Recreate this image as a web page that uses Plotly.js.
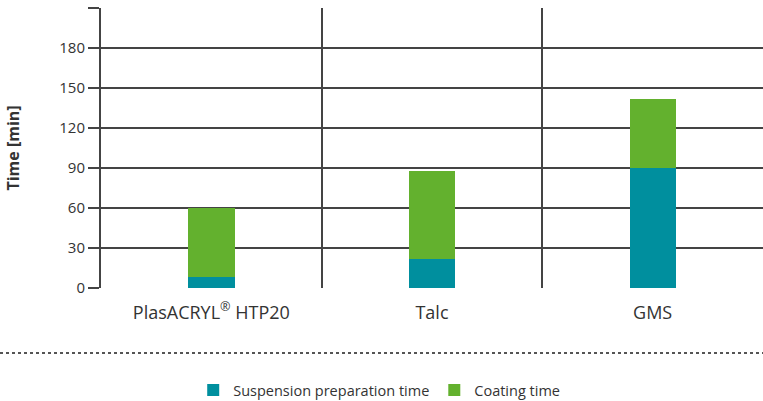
<!DOCTYPE html>
<html><head><meta charset="utf-8">
<script src="https://cdn.plot.ly/plotly-3.0.1.min.js"></script>
<style>body{margin:0;padding:0;background:#fff}#c{width:763px;height:401px}</style>
</head><body><div id="c"></div>
<script>
const categories = ["PlasACRYL<sup>®</sup> HTP20", "Talc", "GMS"];
const suspensionTime = [8, 22, 90];
const coatingTime = [52, 66, 52];
const yTickVals = [0, 30, 60, 90, 120, 150, 180, 210];
const yTickText = ["0", "30", "60", "90", "120", "150", "180", ""];

const font = "Open Sans, Noto Sans, sans-serif";
const data = [
  {type: "bar", name: "Suspension preparation time", x: categories, y: suspensionTime,
   marker: {color: "#008F9E"}, width: 0.21},
  {type: "bar", name: "Coating time", x: categories, y: coatingTime,
   marker: {color: "#63B12E"}, width: 0.21}
];
const layout = {
  width: 763, height: 401,
  margin: {l: 101, r: 0, t: 8, b: 113},
  barmode: "stack",
  paper_bgcolor: "#fff", plot_bgcolor: "#fff",
  font: {family: font, size: 14, color: "#333"},
  showlegend: true,
  legend: {orientation: "h", xref: "container", yref: "container", x: 0.497, xanchor: "center",
           y: 0.027, yanchor: "middle", font: {size: 14.5, color: "#333"}, itemwidth: 30,
           traceorder: "normal"},
  xaxis: {type: "category", tickson: "boundaries", showgrid: true, gridcolor: "#444", gridwidth: 2,
          ticks: "", showline: false, zeroline: false, ticklabelstandoff: 12,
          tickfont: {size: 18, color: "#333"}},
  yaxis: {range: [0, 210], tickvals: yTickVals, ticktext: yTickText, showgrid: true,
          gridcolor: "#444", gridwidth: 2, ticks: "outside", ticklen: 11, tickcolor: "#444",
          tickwidth: 2, showline: true, linecolor: "#444", linewidth: 2, zeroline: false,
          tickfont: {size: 15, color: "#333"},
          title: {text: "<b>Time [min]</b>", font: {size: 16, color: "#333"}, standoff: 36}},
  shapes: [
    {type: "line", xref: "paper", yref: "paper", x0: -101/662, x1: 1, y0: -0.232, y1: -0.232,
     line: {color: "#555", width: 2, dash: "dot"}}
  ]
};
Plotly.newPlot("c", data, layout, {displayModeBar: false, staticPlot: true});
</script></body></html>
